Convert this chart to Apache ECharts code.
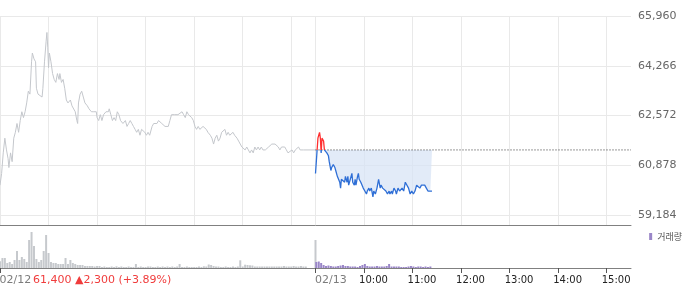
<!DOCTYPE html>
<html><head><meta charset="utf-8">
<script src="https://cdn.jsdelivr.net/npm/echarts@6/dist/echarts.min.js"></script>
<style>html,body{margin:0;padding:0;background:#fff}#c{width:700px;height:289px}</style>
</head><body><div id="c"></div>
<script>
// x = minutes after 09:00 ; 02/12 session = 0..390, 02/13 session = 390..780
const day1Minutes = [0,2,4,6,8,10,11,13,15,17,19,21,23,25,27,29,31,33,35,37,39,40,42,44,45,47,49,52,53,55,57,58,59,60,61,63,65,67,69,71,73,74,76,78,80,82,84,87,89,91,93,95,96,97,99,101,103,105,108,110,113,116,119,120,122,124,126,128,131,134,135,137,139,141,143,145,147,149,152,155,157,159,161,163,165,167,169,171,173,175,177,179,181,183,185,188,190,192,194,196,198,200,202,204,206,208,210,212,214,216,218,220,222,225,227,229,231,233,235,237,239,241,243,245,247,251,255,257,260,262,264,266,268,270,272,274,276,278,280,282,284,286,288,290,293,295,297,299,301,303,305,307,309,311,313,315,317,319,321,323,325,328,330,332,334,336,338,340,342,344,346,348,350,352,354,356,358,361,363,365,367,369,371,373,375,390];
const day1Prices = [60200,60600,61300,61800,61400,61100,60800,61300,61000,61800,62000,62300,62000,62400,62700,62500,62700,63000,63400,63300,64400,64700,64500,64400,63500,63300,63300,63200,63500,64400,65100,65400,64900,64200,64700,64400,64000,63800,63700,64000,63800,64000,63700,63800,63500,63100,63000,63100,62900,62900,62700,62400,62300,63000,63300,63400,63200,63000,62900,62800,62700,62700,62700,62500,62400,62600,62400,62600,62700,62700,62800,62600,62400,62500,62400,62700,62600,62400,62300,62400,62200,62300,62400,62300,62200,62100,62000,62100,61900,62100,62100,62000,61900,62000,61900,62200,62300,62300,62300,62400,62400,62300,62300,62200,62200,62200,62400,62600,62600,62600,62600,62600,62600,62700,62600,62500,62700,62600,62600,62500,62400,62200,62100,62200,62100,62200,62100,62000,61900,61800,61600,61800,61900,61700,61800,62000,62000,62100,61900,62000,61900,61900,62000,61900,61800,61700,61600,61500,61500,61400,61500,61400,61300,61400,61300,61500,61400,61500,61400,61500,61400,61400,61400,61500,61500,61600,61600,61600,61600,61500,61400,61500,61500,61500,61400,61300,61300,61400,61300,61400,61400,61500,61400,61400,61400,61400];
const day2Minutes = [390,392,393,395,396,397,398,400,401,402,404,406,407,409,410,412,414,415,417,419,420,421,422,424,426,427,429,430,431,433,435,436,438,439,440,442,443,444,446,447,449,451,453,454,456,457,459,461,462,464,466,468,470,471,473,475,477,479,481,482,484,485,487,489,490,492,494,497,499,501,503,505,507,509,511,513,515,517,519,521,523,525,527,529,532,534];
const day2Prices = [60600,61400,61800,62000,61800,61300,61800,61700,61400,61400,61300,61200,61000,60700,60800,60900,60800,60700,60500,60500,60300,60100,60400,60400,60300,60500,60300,60500,60200,60400,60600,60300,60200,60400,60200,60500,60600,60400,60300,60300,60100,60000,59900,60000,60100,60000,60100,59800,60000,59900,60100,60400,60100,60200,60100,60100,60000,59900,60000,59900,60000,59900,60100,60000,59900,60100,60000,60100,60000,60300,60300,60100,59900,60000,59900,60000,60200,60200,60100,60200,60200,60200,60100,60000,60000,60000];

const prevClose = 61400;      // 02/12 close, base line of 02/13
const prevChange = 2300;
const prevChangePct = 3.89;

// volume (thousand shares), one bar per 3 minutes
const volStep = 3;
const vol1Start = 0;
const vol1 = [6.7,10,10,5,6,4,8,17,8,11, 9,6,28,36,22,9,6,8,17,33, 15,6,5,5,4,4,4,10,4,8, 5,4,3,3,3,2,2,2,2,1.5,
  2,2,1,1.5,1,1,1.5,1,1.7,1, 1.5,1,1,1.5,1,1,4,1,1.5,1, 1,1.5,1.5,1,1,1.5,1,1.5,1,1.5, 1,1.5,1,1.5,4,1,1,1.5,1,1,
  1,1,1.5,1,1.7,1.5,3.5,3,2,1.5, 1.5,1,1,1.5,1,1,1.5,1,1.5,7.7, 1.5,3.3,3,2.7,2.5,1.5,1.5,1.5,1.5,1.5,
  1.5,1.5,1.5,1.5,1.5,1.5,1.5,2,1.5,1.5, 1.5,2,1.5,1.5,2,1.5,1.5,0,0,0];
const vol1CloseMinute = 390, vol1Close = 28;
const vol2Start = 391;
const vol2 = [6,6.5,5,3,2,2.5,2,1.5,1.5,2, 2.5,3,2,2,1.5,1.5,1.5,1,2,3, 4,2,1.5,1.5,1.5,2,1.5,1.5,1.5,2,
  4,1.5,1.5,1.5,1.5,1,1,1,1.5,2, 1.5,1,1.5,1.5,1,1.5,1,1.5];

const yTicks = [59184, 60878, 62572, 64266, 65960];
const yMin = 58844, yMax = 65960;
const gridMinutes = [0,60,120,180,240,300,360,390,450,510,570,630,690,750];
const xLabelMinutes = [0,390,450,510,570,630,690,750];
const xLabelTexts = ['02/12','02/13','10:00','11:00','12:00','13:00','14:00','15:00'];
const volName = '거래량';

const fmt = v => v.toLocaleString('en-US');
const zip = (a, b) => a.map((x, i) => [x, b[i]]);
const d1 = zip(day1Minutes, day1Prices);
const d2 = zip(day2Minutes, day2Prices);
const d2Area = day2Minutes.map((m, i) => [m, Math.min(day2Prices[i], prevClose)]);
const v1 = vol1.map((v, i) => [vol1Start + i * volStep, v]).concat([[vol1CloseMinute, vol1Close]]);
const v2 = vol2.map((v, i) => [vol2Start + i * volStep, v]);

const FONT = 'DejaVu Sans';
const chart = echarts.init(document.getElementById('c'), null, {renderer: 'canvas'});
chart.setOption({
  animation: false,
  textStyle: {fontFamily: FONT},
  title: {
    text: fmt(prevClose) + ' ▲' + fmt(prevChange) + ' (+' + prevChangePct.toFixed(2) + '%)',
    left: 33, top: 275, padding: 0,
    textStyle: {color: '#f03c3c', fontSize: 11, fontWeight: 'normal', fontFamily: FONT}
  },
  legend: {
    data: [volName], right: 18, top: 232, padding: 0, icon: 'rect',
    itemWidth: 3, itemHeight: 7, selectedMode: false,
    textStyle: {fontSize: 9, color: '#555', fontFamily: 'Noto Sans CJK KR'}
  },
  grid: [
    {left: 0, right: 69, top: 16, height: 209, outerBoundsMode: 'none'},
    {left: 0, right: 69, top: 226, height: 42, outerBoundsMode: 'none'}
  ],
  xAxis: [
    {type: 'value', gridIndex: 0, min: 0, max: 780,
     axisLine: {show: true, lineStyle: {color: '#808080', width: 1}},
     axisTick: {show: false, customValues: gridMinutes},
     axisLabel: {show: false},
     splitLine: {show: true, lineStyle: {color: '#e9e9e9', width: 1}}},
    {type: 'value', gridIndex: 1, min: 0, max: 780,
     axisLine: {show: true, lineStyle: {color: '#808080', width: 1}},
     axisTick: {show: true, customValues: xLabelMinutes, length: 5, lineStyle: {color: '#555'}},
     splitLine: {show: false},
     axisLabel: {
       customValues: xLabelMinutes, align: 'center', margin: 7,
       formatter: v => {
         const i = xLabelMinutes.indexOf(v);
         return (i < 2 ? '{d|' : '{t|') + xLabelTexts[i] + '}';
       },
       rich: {
         d: {width: 1, align: 'left', color: '#7c7c7c', fontSize: 11, fontFamily: FONT},
         t: {width: 10, align: 'left', color: '#222', fontSize: 10, fontFamily: FONT}
       }
     }}
  ],
  yAxis: [
    {type: 'value', gridIndex: 0, position: 'right', min: yMin, max: yMax,
     axisLine: {show: false},
     axisTick: {show: false, customValues: yTicks},
     axisLabel: {customValues: yTicks, margin: 7, color: '#666', fontSize: 11, fontFamily: FONT, formatter: v => fmt(v)},
     splitLine: {show: true, lineStyle: {color: '#e9e9e9', width: 1}}},
    {type: 'value', gridIndex: 1, min: 0, max: 42, show: false, splitLine: {show: false}}
  ],
  visualMap: {
    type: 'piecewise', show: false, seriesIndex: 2, dimension: 1,
    pieces: [{gte: yMin, lt: prevClose, color: '#2f6fd6'}, {gte: prevClose, lte: yMax, color: '#ff2f2f'}]
  },
  series: [
    {type: 'line', name: 'prev', xAxisIndex: 0, yAxisIndex: 0, data: d1, showSymbol: false, silent: true,
     lineStyle: {color: '#c4c7cc', width: 1}, z: 2},
    {type: 'line', name: 'area', xAxisIndex: 0, yAxisIndex: 0, data: d2Area, showSymbol: false, silent: true,
     lineStyle: {width: 0, opacity: 0}, itemStyle: {color: '#d6e3f5'},
     areaStyle: {color: '#d6e3f5', opacity: 0.7, origin: prevClose}, z: 1},
    {type: 'line', name: 'today', xAxisIndex: 0, yAxisIndex: 0, data: d2, showSymbol: false, silent: true,
     lineStyle: {width: 1.3}, z: 3},
    {type: 'line', name: 'base', xAxisIndex: 0, yAxisIndex: 0, data: [[390, prevClose], [780, prevClose]],
     showSymbol: false, silent: true, z: 2,
     lineStyle: {color: '#333', type: [1, 2], width: 1}},
    {type: 'bar', name: 'prevVol', xAxisIndex: 1, yAxisIndex: 1, data: v1, stack: 'vol', barWidth: 2,
     itemStyle: {color: '#c6c9cd'}, silent: true},
    {type: 'bar', name: volName, xAxisIndex: 1, yAxisIndex: 1, data: v2, stack: 'vol', barWidth: 2,
     itemStyle: {color: '#9a86c8'}, silent: true}
  ]
});
</script>
</body></html>
